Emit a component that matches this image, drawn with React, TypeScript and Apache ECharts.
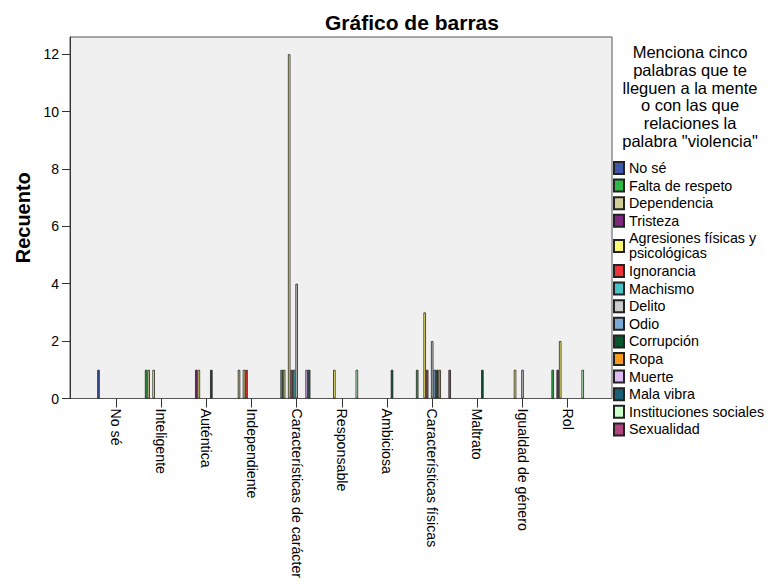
import React, { useEffect, useRef } from "react";
import * as echarts from "echarts";

const categories = [
  "No sé",
  "Inteligente",
  "Auténtica",
  "Independiente",
  "Características de carácter",
  "Responsable",
  "Ambiciosa",
  "Características físicas",
  "Maltrato",
  "Igualdad de género",
  "Rol",
];

// counts per category (same order as categories)
const noSe = [1, 0, 0, 0, 0, 0, 0, 0, 0, 0, 0];
const faltaDeRespeto = [0, 1, 0, 0, 1, 0, 0, 1, 0, 0, 1];
const dependencia = [0, 1, 0, 1, 1, 0, 0, 0, 0, 0, 0];
const tristeza = [0, 0, 1, 0, 0, 0, 0, 0, 0, 0, 1];
const agresiones = [0, 1, 1, 1, 12, 1, 0, 3, 0, 1, 2];
const ignorancia = [0, 0, 0, 1, 1, 0, 0, 1, 0, 0, 0];
const machismo = [0, 0, 0, 0, 1, 0, 0, 0, 0, 0, 0];
const delito = [0, 0, 0, 0, 4, 0, 0, 2, 0, 1, 0];
const odio = [0, 0, 0, 0, 0, 0, 0, 1, 0, 0, 0];
const corrupcion = [0, 0, 1, 0, 0, 0, 1, 1, 1, 0, 0];
const ropa = [0, 0, 0, 0, 0, 0, 0, 1, 0, 0, 0];
const muerte = [0, 0, 0, 0, 1, 0, 0, 0, 0, 0, 0];
const malaVibra = [0, 0, 0, 0, 1, 0, 0, 0, 0, 0, 0];
const institucionesSociales = [0, 0, 0, 0, 0, 1, 0, 0, 0, 0, 1];
const sexualidad = [0, 0, 0, 0, 0, 0, 0, 1, 0, 0, 0];

const seriesNames = [
  "No sé",
  "Falta de respeto",
  "Dependencia",
  "Tristeza",
  "Agresiones físicas y psicológicas",
  "Ignorancia",
  "Machismo",
  "Delito",
  "Odio",
  "Corrupción",
  "Ropa",
  "Muerte",
  "Mala vibra",
  "Instituciones sociales",
  "Sexualidad",
];
const seriesValues = [
  noSe,
  faltaDeRespeto,
  dependencia,
  tristeza,
  agresiones,
  ignorancia,
  machismo,
  delito,
  odio,
  corrupcion,
  ropa,
  muerte,
  malaVibra,
  institucionesSociales,
  sexualidad,
];
const seriesColors = [
  "#3E58AC",
  "#2EB848",
  "#D3CE97",
  "#7C287D",
  "#FBF873",
  "#EF3338",
  "#48C2C5",
  "#CCCCCC",
  "#7AAAD5",
  "#0A562C",
  "#F8981D",
  "#DDBAF1",
  "#1A5F76",
  "#CCFFCC",
  "#B2457D",
];

const yTicks = [0, 2, 4, 6, 8, 10, 12];

const FONT = "'Liberation Sans', Arial, sans-serif";

export default function App() {
  const ref = useRef<HTMLDivElement>(null);

  useEffect(() => {
    if (!ref.current) return;
    const chart = echarts.init(ref.current, undefined, { renderer: "svg" });

    const frameL = 70;
    const frameR = 612;
    const frameT = 37;
    const frameB = 398.5;

    const option: any = {
      animation: false,
      backgroundColor: "#ffffff",
      textStyle: { fontFamily: FONT },
      title: {
        text: "Gráfico de barras",
        left: 320,
        top: 7,
        textStyle: { fontSize: 21, fontWeight: "bold", color: "#000", fontFamily: FONT },
      },
      graphic: [
        {
          type: "rect",
          z: -10,
          silent: true,
          shape: { x: frameL, y: frameT, width: frameR - frameL, height: frameB - frameT },
          style: { fill: "#F0F0F0", stroke: "#555555", lineWidth: 1 },
        },
        {
          type: "text",
          x: 690,
          y: 43,
          silent: true,
          style: {
            text:
              "Menciona cinco\npalabras que te\nlleguen a la mente\no con las que\nrelaciones la\npalabra \"violencia\"",
            fill: "#000",
            font: `16.5px ${FONT}`,
            lineHeight: 17.8,
            textAlign: "center",
            textVerticalAlign: "top",
          },
        },
      ],
      legend: {
        orient: "vertical",
        left: 613,
        top: 160.5,
        icon: "rect",
        itemWidth: 10,
        itemHeight: 12,
        itemGap: 2.6,
        padding: 0,
        data: seriesNames,
        formatter: (name: string) =>
          name === "Agresiones físicas y psicológicas" ? "Agresiones físicas y\npsicológicas" : name,
        textStyle: { fontSize: 14.3, lineHeight: 15, color: "#000", fontFamily: FONT },
      },
      grid: {
        left: 93.4,
        right: 770 - 590.3,
        top: frameT,
        bottom: 584 - frameB,
        containLabel: false,
      },
      xAxis: {
        type: "category",
        data: categories,
        axisLine: { show: true, lineStyle: { color: "#555555" } },
        axisTick: { show: true, alignWithLabel: true, length: 9, lineStyle: { color: "#333" } },
        axisLabel: {
          rotate: -90,
          margin: 10,
          fontSize: 14.2,
          color: "#000",
          fontFamily: FONT,
          interval: 0,
        },
        splitLine: { show: false },
      },
      yAxis: {
        type: "value",
        min: 0,
        max: 12.6,
        interval: 2,
        offset: 23.4,
        name: "Recuento",
        nameLocation: "middle",
        nameGap: 37,
        nameTextStyle: { fontSize: 20, fontWeight: "bold", color: "#000", fontFamily: FONT },
        axisLine: { show: true, lineStyle: { color: "#333" } },
        axisTick: { show: true, length: 8, lineStyle: { color: "#333" }, customValues: yTicks },
        axisLabel: {
          fontSize: 14,
          color: "#000",
          margin: 11,
          fontFamily: FONT,
          customValues: yTicks,
        },
        splitLine: { show: false },
      },
      series: seriesNames.map((name, i) => ({
        name,
        type: "bar",
        barGap: "0%",
        barCategoryGap: "17%",
        data: seriesValues[i].map((v) => (v === 0 ? "-" : v)),
        itemStyle: { color: seriesColors[i], borderColor: "#222", borderWidth: 0.8 },
        emphasis: { disabled: true },
      })),
    };

    chart.setOption(option);
    return () => chart.dispose();
  }, []);

  return (
    <div
      ref={ref}
      style={{ position: "fixed", left: 0, top: 0, width: 770, height: 584, background: "#fff" }}
    />
  );
}
